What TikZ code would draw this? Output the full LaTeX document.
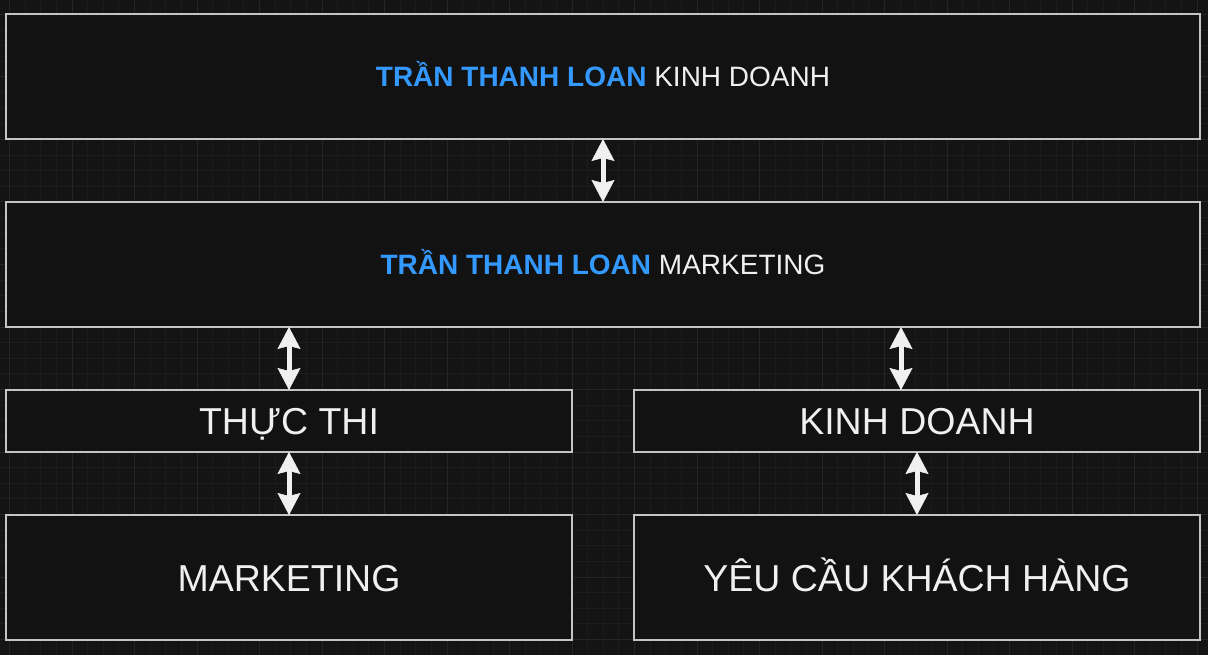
\documentclass[tikz,border=0pt]{standalone}
\usepackage{fontspec}
\setmainfont{Liberation Sans}
\usepackage{xcolor}
\usepackage{tikz}
\usetikzlibrary{positioning,arrows.meta}

\definecolor{bgc}{HTML}{141414}
\definecolor{boxfill}{HTML}{121212}
\definecolor{boxline}{HTML}{C4C4C4}
\definecolor{gridminor}{HTML}{1C1C1C}
\definecolor{gridmajor}{HTML}{252525}
\definecolor{txt}{HTML}{F0F0F0}
\definecolor{hl}{HTML}{3399FF}

\tikzset{
  box/.style={draw=boxline, line width=2pt, fill=boxfill, text=txt,
    inner sep=0pt, outer sep=0pt, text depth=0pt},
  wide/.style={box, minimum width=1194pt, minimum height=125pt,
    font=\fontsize{28}{34}\selectfont, text height=20pt},
  half/.style={box, minimum width=566pt, font=\fontsize{37.5}{45}\selectfont,
    text height=27pt},
  dbl/.style={{Stealth[length=22pt,width=23pt,inset=3pt,line width=0.5pt]}-{Stealth[length=22pt,width=23pt,inset=3pt,line width=0.5pt]},
    draw=txt, fill=txt, line width=5pt}
}

\begin{document}
\begin{tikzpicture}[x=1pt, y=-1pt]
  % Background and grid
  \useasboundingbox (0,0) rectangle (1208,655);
  \fill[bgc] (0,0) rectangle (1208,655);
  \foreach \i in {0,...,77}
    \draw[gridminor, line width=1pt] ({9.5+15.625*\i},0) -- ++(0,655);
  \foreach \j in {-1,...,41}
    \draw[gridminor, line width=1pt] (0,{14.5+15.625*\j}) -- ++(1208,0);
  \foreach \i in {0,...,19}
    \draw[gridmajor, line width=1pt] ({9.5+62.5*\i},0) -- ++(0,655);
  \foreach \j in {0,...,10}
    \draw[gridmajor, line width=1pt] (0,{14.5+62.5*\j}) -- ++(1208,0);
  % Define nodes
  \node[wide] (kd) at (603,76.5) {{\bfseries\color{hl}TRẦN THANH LOAN} KINH DOANH}; %
  \node[wide, below=63pt of kd] (mk) {{\bfseries\color{hl}TRẦN THANH LOAN} MARKETING}; %
  \node[half, minimum height=62pt, anchor=north west] (tt)
    at ([yshift=-63pt]mk.south west) {THỰC THI};
  \node[half, minimum height=62pt, anchor=north east] (kk)
    at ([yshift=-63pt]mk.south east) {KINH DOANH};
  \node[half, minimum height=125pt, below=63pt of tt] (mc) {MARKETING};
  \node[half, minimum height=125pt, below=63pt of kk] (yc) {YÊU CẦU KHÁCH HÀNG};
  % Connectors
  \draw[dbl] (kd) -- (mk);
  \draw[dbl] (mk.south -| tt.north) -- (tt.north);
  \draw[dbl] ([xshift=-16pt]kk.north |- mk.south) -- ([xshift=-16pt]kk.north);
  \draw[dbl] (tt) -- (mc);
  \draw[dbl] (kk) -- (yc);
\end{tikzpicture}
\end{document}
